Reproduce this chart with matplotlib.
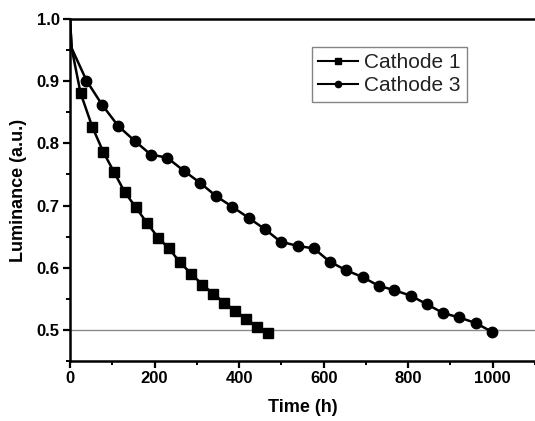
import matplotlib
matplotlib.use("Agg")
import matplotlib.pyplot as plt
from matplotlib.ticker import MultipleLocator
from matplotlib.lines import Line2D

# Cathode 1 (squares)
c1_time = [0, 4, 25, 53, 79, 104, 130, 156, 182, 209, 234, 260, 287, 313, 339, 365, 390, 416, 443, 469]
c1_lum = [1.0, 0.953, 0.881, 0.826, 0.786, 0.754, 0.721, 0.697, 0.672, 0.648, 0.631, 0.609,
          0.590, 0.573, 0.558, 0.544, 0.531, 0.518, 0.505, 0.495]
c1_marks = list(range(2, len(c1_time)))

# Cathode 3 (circles)
c3_time = [0, 4, 39, 76, 114, 153, 191, 230, 269, 307, 346, 384, 423, 461, 498, 539, 577,
           614, 653, 692, 730, 767, 806, 845, 883, 921, 960, 998]
c3_lum = [1.0, 0.953, 0.901, 0.862, 0.828, 0.804, 0.782, 0.777, 0.756, 0.737, 0.715, 0.698,
          0.680, 0.662, 0.642, 0.635, 0.631, 0.610, 0.596, 0.585, 0.571, 0.564, 0.555,
          0.541, 0.527, 0.520, 0.511, 0.497]
c3_marks = list(range(2, len(c3_time)))

ref_level = 0.5

plt.rcParams['font.family'] = ['Liberation Sans', 'DejaVu Sans']

fig = plt.figure(figsize=(5.35, 4.21), dpi=100)
ax = fig.add_axes([0.1308, 0.1425, 0.8692, 0.8124])

ax.axhline(ref_level, color='#8a8a8a', lw=1.0, zorder=1)
ax.plot(c1_time, c1_lum, color='black', lw=1.8, marker='s', ms=6.5,
        markevery=c1_marks, label='Cathode 1', zorder=3)
ax.plot(c3_time, c3_lum, color='black', lw=1.8, marker='o', ms=7.5,
        markevery=c3_marks, label='Cathode 3', zorder=3)

ax.set_xlim(0, 1100)
ax.set_ylim(0.45, 1.0)
ax.xaxis.set_major_locator(MultipleLocator(200))
ax.xaxis.set_minor_locator(MultipleLocator(100))
ax.yaxis.set_major_locator(MultipleLocator(0.1))
ax.yaxis.set_minor_locator(MultipleLocator(0.05))
ax.set_xticks([0, 200, 400, 600, 800, 1000])
ax.yaxis.set_major_formatter(plt.FuncFormatter(lambda v, p: f"{v:.1f}"))

for s in ['left', 'bottom', 'top']:
    ax.spines[s].set_linewidth(1.8)
ax.spines['right'].set_visible(False)

ax.tick_params(which='major', direction='out', length=5, width=1.6, labelsize=12, pad=2.5)
ax.tick_params(which='minor', direction='out', length=3, width=1.4)
for lab in ax.get_xticklabels() + ax.get_yticklabels():
    lab.set_fontweight('bold')

ax.set_xlabel('Time (h)', fontsize=13, fontweight='bold', labelpad=9)
ax.set_ylabel('Luminance (a.u.)', fontsize=13, fontweight='bold', labelpad=7)

h1 = Line2D([], [], color='black', lw=1.5, marker='s', ms=4.5)
h2 = Line2D([], [], color='black', lw=1.5, marker='o', ms=4.5)
leg = ax.legend([h1, h2], ['Cathode 1', 'Cathode 3'], loc='upper left',
                bbox_to_anchor=(0.52, 0.918), fontsize=15, frameon=True, fancybox=False,
                handlelength=1.9, handletextpad=0.3, borderpad=0.3, labelspacing=0.2,
                borderaxespad=0.0, labelcolor='#222222')
leg.get_frame().set_edgecolor('#666666')
leg.get_frame().set_linewidth(1.0)

fig.savefig('out.png', dpi=100)
